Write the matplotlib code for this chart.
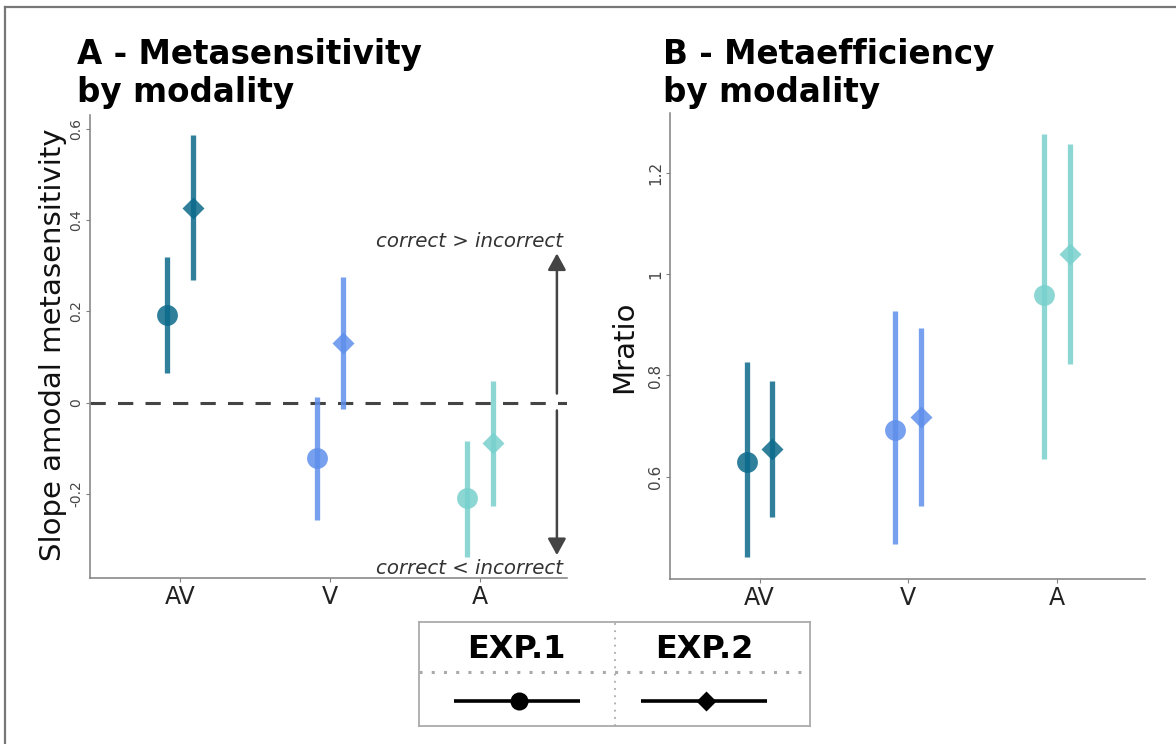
import matplotlib
matplotlib.use("Agg")
import matplotlib.pyplot as plt
from matplotlib.lines import Line2D

modalities = ["AV", "V", "A"]
colors = ["#0b6a8b", "#5f8feb", "#78d0cd"]

# Panel A: slope of amodal metasensitivity (estimate, lower, upper)
slope_exp1 = [0.192, -0.122, -0.209]
slope_exp1_lo = [0.065, -0.257, -0.338]
slope_exp1_hi = [0.320, 0.013, -0.085]
slope_exp2 = [0.426, 0.131, -0.089]
slope_exp2_lo = [0.268, -0.013, -0.227]
slope_exp2_hi = [0.586, 0.275, 0.048]

# Panel B: Mratio (estimate, lower, upper)
mratio_exp1 = [0.629, 0.692, 0.958]
mratio_exp1_lo = [0.441, 0.467, 0.635]
mratio_exp1_hi = [0.826, 0.927, 1.276]
mratio_exp2 = [0.654, 0.718, 1.040]
mratio_exp2_lo = [0.520, 0.542, 0.822]
mratio_exp2_hi = [0.789, 0.893, 1.257]

slope_ticks = [-0.2, 0, 0.2, 0.4, 0.6]
slope_ticklabels = ["-0.2", "0", "0.2", "0.4", "0.6"]
mratio_ticks = [0.6, 0.8, 1.0, 1.2]
mratio_ticklabels = ["0.6", "0.8", "1", "1.2"]

DODGE = 0.087
ALPHA = 0.85
AXIS_GREY = "#808080"

fig = plt.figure(figsize=(11.76, 7.44), dpi=100)


def draw_points(ax, est, lo, hi, offset, marker, ms):
    for i, c in enumerate(colors):
        x = i + offset
        ax.plot([x, x], [lo[i], hi[i]], color=c, lw=3.8, alpha=ALPHA,
                solid_capstyle="butt", zorder=3)
        ax.plot(x, est[i], marker=marker, ms=ms, color=c, mec="none",
                alpha=ALPHA, zorder=4)


def style_axes(ax, ticks, ticklabels, tick_fs):
    for side in ("top", "right"):
        ax.spines[side].set_visible(False)
    for side in ("left", "bottom"):
        ax.spines[side].set_color(AXIS_GREY)
        ax.spines[side].set_linewidth(1.1)
    ax.set_xticks(range(len(modalities)))
    ax.set_xticklabels(modalities, fontsize=17, color="#222222")
    ax.set_yticks(ticks)
    ax.set_yticklabels(ticklabels, fontsize=tick_fs, color="#444444",
                       rotation=90, va="center")
    ax.tick_params(axis="both", length=3, width=0.8, color=AXIS_GREY, pad=2)
    ax.tick_params(axis="x", pad=2)


# Panel A
axA = fig.add_axes([0.0765, 0.2231, 0.4056, 0.6223])
axA.axhline(0, color="#444444", lw=2.2, dashes=(5, 4), zorder=2)
draw_points(axA, slope_exp1, slope_exp1_lo, slope_exp1_hi, -DODGE, "o", 15)
draw_points(axA, slope_exp2, slope_exp2_lo, slope_exp2_hi, DODGE, "D", 11.5)
axA.set_xlim(-0.6, 2.58)
axA.set_ylim(-0.384, 0.630)
style_axes(axA, slope_ticks, slope_ticklabels, 10)
axA.set_ylabel("Slope amodal metasensitivity", fontsize=21, color="#111111")
axA.yaxis.set_label_coords(-0.048, 0.505)

# direction arrows on the right side of panel A
arrow_kw = dict(arrowstyle="-|>,head_length=1.0,head_width=0.55",
                color="#444444", lw=1.8, shrinkA=0, shrinkB=0)
axA.annotate("", xy=(2.513, 0.327), xytext=(2.513, 0.02), arrowprops=arrow_kw)
axA.annotate("", xy=(2.513, -0.334), xytext=(2.513, -0.017), arrowprops=arrow_kw)
axA.text(2.553, 0.353, "correct > incorrect", ha="right", va="center",
         fontsize=14.2, style="italic", color="#333333")
axA.text(2.553, -0.364, "correct < incorrect", ha="right", va="center",
         fontsize=14.2, style="italic", color="#333333")

# Panel B
axB = fig.add_axes([0.5697, 0.2218, 0.4039, 0.626])
draw_points(axB, mratio_exp1, mratio_exp1_lo, mratio_exp1_hi, -DODGE, "o", 15)
draw_points(axB, mratio_exp2, mratio_exp2_lo, mratio_exp2_hi, DODGE, "D", 11.5)
axB.set_xlim(-0.602, 2.59)
axB.set_ylim(0.398, 1.318)
style_axes(axB, mratio_ticks, mratio_ticklabels, 11)
axB.set_ylabel("Mratio", fontsize=21, color="#111111")
axB.yaxis.set_label_coords(-0.067, 0.498)

# panel titles
for x0, lines in ((77, ["A - Metasensitivity", "by modality"]),
                  (663, ["B - Metaefficiency", "by modality"])):
    for y0, line in zip((64, 102), lines):
        fig.text(x0 / 1176, 1 - y0 / 744, line, fontsize=23.5, fontweight="bold",
                 ha="left", va="baseline", color="black")

# legend box
axL = fig.add_axes([419 / 1176, 18 / 744, 391 / 1176, 104 / 744])
axL.set_xlim(0, 1)
axL.set_ylim(0, 1)
axL.set_xticks([])
axL.set_yticks([])
for sp in axL.spines.values():
    sp.set_color("#aaaaaa")
    sp.set_linewidth(1.3)
axL.axvline(0.5, color="#aaaaaa", lw=1.3, ls=(0, (1, 3)))
axL.axhline(0.519, color="#aaaaaa", lw=2.2, ls=(0, (1, 3)))
for xc, label, marker, ms in ((0.25, "EXP.1", "o", 13), (0.73, "EXP.2", "D", 10)):
    axL.text(xc, 0.74, label, ha="center", va="center", fontsize=23,
             fontweight="bold", color="black")
    axL.plot([xc - 0.161, xc + 0.161], [0.24, 0.24], color="black", lw=2.6,
             solid_capstyle="butt")
    axL.plot(xc + 0.005, 0.24, marker=marker, ms=ms, color="black", mec="none")

# outer frame along the top and left edges
fig.add_artist(Line2D([5 / 1176, 5 / 1176], [0, 1 - 7 / 744], color="#777777",
                      lw=1.6, transform=fig.transFigure))
fig.add_artist(Line2D([5 / 1176, 1], [1 - 7 / 744, 1 - 7 / 744], color="#777777",
                      lw=1.6, transform=fig.transFigure))

fig.savefig("out.png", dpi=100, facecolor="white")
